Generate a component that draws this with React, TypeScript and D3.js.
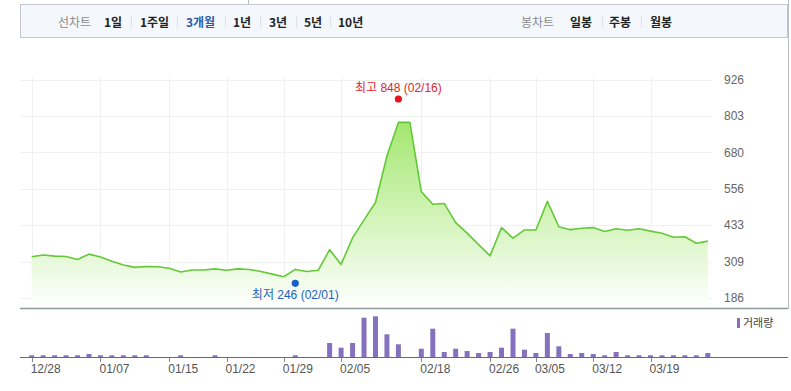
import React from "react";
import * as d3 from "d3";

const dates = [
  "12/28","12/29","12/30","01/04","01/05","01/06","01/07","01/08","01/11","01/12",
  "01/13","01/14","01/15","01/18","01/19","01/20","01/21","01/22","01/25","01/26",
  "01/27","01/28","01/29","02/01","02/02","02/03","02/04","02/05","02/08","02/09",
  "02/10","02/15","02/16","02/17","02/18","02/19","02/22","02/23","02/24","02/25",
  "02/26","03/02","03/03","03/04","03/05","03/08","03/09","03/10","03/11","03/12",
  "03/15","03/16","03/17","03/18","03/19","03/22","03/23","03/24","03/25","03/26",
];

const closes = [
  326, 332, 328, 327, 317, 335, 325, 311, 298, 290,
  293, 292, 287, 274, 281, 281, 285, 280, 285, 283,
  276, 267, 258, 283, 276, 280, 350, 300, 390, 451,
  510, 668, 782, 782, 547, 504, 507, 442, 406, 367,
  329, 425, 389, 417, 417, 514, 428, 418, 423, 425,
  412, 421, 416, 421, 413, 406, 392, 394, 372, 379,
];

const volumes = [
  1.7, 1.7, 1.7, 1.7, 1.7, 3, 1.7, 1.7, 1.7, 1.7,
  1.7, 0, 0, 1.7, 0, 0, 1.7, 0, 0, 0,
  0, 0, 0, 1.7, 0, 0, 14, 9.3, 14, 39.3,
  40.7, 22.7, 12.7, 0, 8.3, 28.3, 5, 8.3, 6, 4,
  5, 9.3, 28.3, 7.3, 4, 24, 10.7, 3, 4, 3,
  1.7, 5, 1.7, 1.7, 1.7, 1.7, 1.7, 1.7, 1.7, 4,
];

const priceTicks = [186, 309, 433, 556, 680, 803, 926];
const dateTicks = ["12/28","01/07","01/15","01/22","01/29","02/05","02/18","02/26","03/05","03/12","03/19"];

const highValue = 848;
const highDate = "02/16";
const lowValue = 246;
const lowDate = "02/01";

const lineTabs = ["1일", "1주일", "3개월", "1년", "3년", "5년", "10년"];
const candleTabs = ["일봉", "주봉", "월봉"];

const KR = "'Noto Sans CJK KR', 'Liberation Sans', sans-serif";
const NUM = "'Liberation Sans', Arial, 'Noto Sans CJK KR', sans-serif";

export default function App() {
  const W = 791, H = 391;
  const x = d3.scalePoint<string>().domain(dates).range([31.7, 707.8]);
  const y = d3.scaleLinear().domain([186, 926]).range([298, 80]);
  const plotBottom = 308;
  const vy = d3.scaleLinear().domain([0, 48]).range([357, 309]);

  const data = dates.map((d, i) => ({ d, v: closes[i], vol: volumes[i] }));
  const line = d3.line<any>().x((p) => x(p.d)!).y((p) => y(p.v));
  const area = d3.area<any>().x((p) => x(p.d)!).y0(plotBottom).y1((p) => y(p.v));

  const lineTabX = [104, 140, 186, 233, 269, 304, 338];
  const sepX = [131, 177, 225, 260, 296, 330];
  const candleX = [570, 609, 650];
  const candleSep = [602, 641];

  return (
    <svg width={W} height={H} style={{ position: "absolute", left: 0, top: 0, background: "#fff" }}>
      <defs>
        <linearGradient id="ag" gradientUnits="userSpaceOnUse" x1="0" y1="80" x2="0" y2={plotBottom}>
          <stop offset="0" stopColor="#8fe24f" />
          <stop offset="1" stopColor="#ffffff" />
        </linearGradient>
      </defs>

      {/* header */}
      <line x1={248.5} y1={0} x2={248.5} y2={4} stroke="#b8bcc0" />
      <rect x={20.5} y={4.5} width={767} height={33} fill="#f4f8fd" stroke="#c4c8cc" />
      <text x={58} y={27} fontFamily={KR} fontSize={12} fill="#8a8a8a">선차트</text>
      {lineTabs.map((t, i) => (
        <text key={t} x={lineTabX[i]} y={27} fontFamily={KR} fontSize={12} fontWeight="bold"
          fill={t === "3개월" ? "#2d5ba8" : "#222"}>{t}</text>
      ))}
      {sepX.map((s) => (
        <line key={s} x1={s + 0.5} y1={16} x2={s + 0.5} y2={28} stroke="#dde0e4" />
      ))}
      <text x={521} y={27} fontFamily={KR} fontSize={12} fill="#8a8a8a">봉차트</text>
      {candleTabs.map((t, i) => (
        <text key={t} x={candleX[i]} y={27} fontFamily={KR} fontSize={12} fontWeight="bold" fill="#222">{t}</text>
      ))}
      {candleSep.map((s) => (
        <line key={s} x1={s + 0.5} y1={16} x2={s + 0.5} y2={28} stroke="#dde0e4" />
      ))}

      {/* right border */}
      <line x1={788.5} y1={0} x2={788.5} y2={309} stroke="#b8bcc0" />

      {/* grid */}
      {priceTicks.map((t) => (
        <line key={t} x1={20} x2={712} y1={Math.round(y(t)) + 0.5} y2={Math.round(y(t)) + 0.5} stroke="#eef1ee" />
      ))}
      {dateTicks.map((d) => (
        <line key={d} x1={Math.round(x(d)!) + 0.5} x2={Math.round(x(d)!) + 0.5} y1={78} y2={plotBottom} stroke="#eef1ee" />
      ))}

      {/* area + line */}
      <path d={area(data)!} fill="url(#ag)" />
      <path d={line(data)!} fill="none" stroke="#63c936" strokeWidth={1.6} strokeLinejoin="round" />

      {/* y labels */}
      {priceTicks.map((t) => (
        <text key={t} x={724} y={y(t)} dy="0.35em" fontFamily={NUM} fontSize={12} fill="#666">{t}</text>
      ))}

      {/* high / low markers */}
      <circle cx={x(highDate)} cy={y(highValue) - 4} r={3.6} fill="#e8141c" />
      <text x={x(highDate)} y={y(highValue) - 11} textAnchor="middle" fontFamily={NUM} fontSize={12} fill="#e0262c">
        {`최고 ${highValue} (${highDate})`}
      </text>
      <circle cx={x(lowDate)} cy={y(lowValue) + 3} r={3.6} fill="#1a5fcf" />
      <text x={x(lowDate)} y={y(lowValue) + 19} textAnchor="middle" fontFamily={NUM} fontSize={12} fill="#1e5fc0">
        {`최저 ${lowValue} (${lowDate})`}
      </text>

      {/* separator */}
      <line x1={20} x2={788} y1={308.5} y2={308.5} stroke="#8f9c9c" strokeWidth={1.6} />

      {/* volume */}
      {data.map((p) => (
        p.vol > 0 ? (
          <rect key={p.d} x={x(p.d)! - 2.5} y={vy(p.vol)} width={5} height={357 - vy(p.vol)} fill="#8572be" />
        ) : null
      ))}
      <line x1={20} x2={788} y1={357.5} y2={357.5} stroke="#6a6a6a" />
      <rect x={737} y={318} width={3} height={10} fill="#8572be" />
      <text x={743} y={327} fontFamily={KR} fontSize={11} fill="#444">거래량</text>

      {/* x ticks */}
      {dateTicks.map((d) => (
        <g key={d}>
          <line x1={Math.round(x(d)!) + 0.5} x2={Math.round(x(d)!) + 0.5} y1={358} y2={362} stroke="#888" />
          <text x={x(d)! - 1} y={373} fontFamily={NUM} fontSize={12} fill="#555">{d}</text>
        </g>
      ))}
    </svg>
  );
}
